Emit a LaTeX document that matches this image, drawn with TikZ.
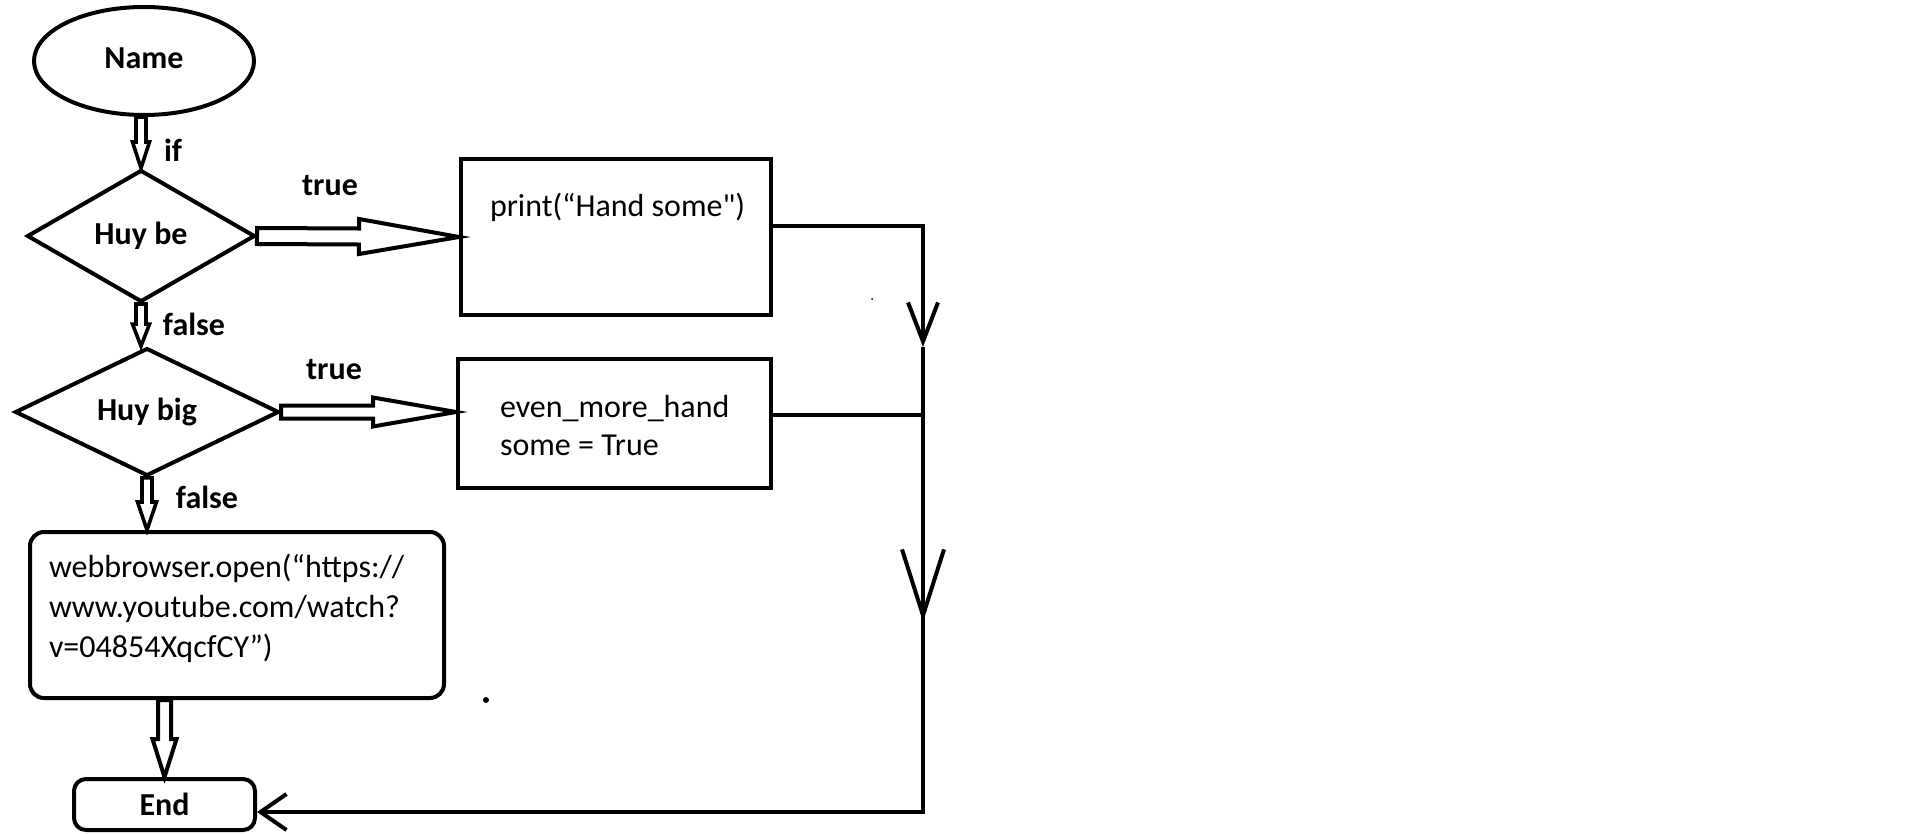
\documentclass[tikz,border=0pt]{standalone}
\usepackage{fontspec}
\setmainfont{Carlito}[Ligatures=TeXOff]
\usetikzlibrary{shapes.geometric, arrows.meta, positioning, calc}
\newcommand{\lblfont}{\fontsize{16}{20}\selectfont\bfseries}
\newcommand{\txtfont}{\fontsize{16}{20}\selectfont}

\begin{document}
\begin{tikzpicture}[x=0.5pt, y=-0.5pt, line width=2pt]
		% Define elements
		\tikzstyle{line} = [draw, -{Straight Barb[length=13pt, width=18pt]}]
		\tikzstyle{block} = [rectangle, draw, inner sep=0pt]
		\tikzstyle{decision} = [diamond, draw, inner sep=0pt, font=\lblfont]
		\tikzstyle{txt} = [inner sep=0pt, font=\txtfont, align=left]
		\tikzstyle{lbl} = [inner sep=0pt, font=\lblfont]
		\tikzset{fat/.style n args={3}{draw, to path={
			($(\tikztotarget)!#3!(\tikztostart)$) coordinate (fatc)
			($(\tikztostart)!#1!90:(\tikztotarget)$) -- ($(fatc)!#1!90:(\tikztotarget)$)
			-- ($(fatc)!#2!90:(\tikztotarget)$) -- (\tikztotarget)
			-- ($(fatc)!#2!-90:(\tikztotarget)$) -- ($(fatc)!#1!-90:(\tikztotarget)$)
			-- ($(\tikztostart)!#1!-90:(\tikztotarget)$) -- cycle}}}
		\useasboundingbox (0,0) rectangle (1914,834);

		%% Decisions
		\node [name = start, ellipse, draw, inner sep=0pt,
			minimum width=110pt, minimum height=54pt, font=\lblfont] at (144,61) {\raisebox{3pt}{Name}};
		\node [name = huybe, decision, minimum width=114pt, minimum height=66pt] at (141,236) {Huy be};
		\node [name = huybig, decision, minimum width=132pt, minimum height=63pt] at (147,412) {Huy big};

		%% Actions
		\node [name = hand, block, minimum width=155pt, minimum height=78pt] at (616,237) {};
		\node [name = handtext, txt, anchor=base west] at ($(hand.north west)+(29,59)$) {print(“Hand some")};
		\node [name = more, block, minimum width=156.5pt, minimum height=64.5pt] at (614.5,423.5) {};
		\node [name = moretext, txt, anchor=base west, font=\fontsize{16}{19}\selectfont]
			at ($(more.north west)+(42,98)$) {even\_more\_hand\\some = True};
		\node [name = web, block, rounded corners=7pt, minimum width=207pt, minimum height=83pt] at (237,615) {};
		\node [name = webtext, txt, anchor=base west] at ($(web.north west)+(19,127)$)
			{webbrowser.open(“https://\\www.youtube.com/watch?\\v=04854XqcfCY”)};
		\node [name = stop, block, rounded corners=6pt,
			minimum width=90.5pt, minimum height=25.5pt, font=\lblfont] at (164.5,804.5) {End};

		%% Labels
		\node [lbl] at (173,150) {if};
		\node [lbl] at (330,186) {true};
		\node [lbl] at (194,324) {false};
		\node [lbl] at (334,370) {true};
		\node [lbl] at (207,497) {false};
		\fill (486,700) circle (1.5pt);
		\fill (872,299) circle (0.5pt);

	% arrows
		\coordinate (f0) at (huybe.north |- start.south);
		\coordinate (f1) at (huybe.south |- huybig.north);
		\coordinate (f2) at (huybig.south |- web.north);
		\coordinate (f3) at (stop.north |- web.south);
		\coordinate (t2) at (huybig.east -| more.west);
		\draw [fat={2.5pt}{4.25pt}{13pt}, line width=1.8pt] (f0) to (huybe.north);
		\draw [fat={4pt}{8.75pt}{50pt}] (huybe.east) to (hand.west);
		\draw [fat={2.5pt}{4.25pt}{11pt}, line width=1.8pt] (huybe.south) to (f1);
		\draw [fat={3.25pt}{7.25pt}{41.5pt}] (huybig.east) to (t2);
		\draw [fat={2.5pt}{4.75pt}{14pt}, line width=1.8pt] (huybig.south) to (f2);
		\draw [fat={3.25pt}{6pt}{19pt}] (f3) to (stop.north);

		\coordinate (j1) at (923,226);
		\coordinate (a1) at (923,347);
		\coordinate (j2) at (923,415);
		\coordinate (a2) at (923,622);
		\coordinate (j3) at (923,812);
		\path [draw, -{Straight Barb[length=19.5pt, width=15pt]}] (hand.east |- j1) -- (j1) -- (a1);
		\path [draw] (more.east |- j2) -- (j2);
		\path [draw, -{Straight Barb[length=33pt, width=21pt]}] (j2) -- (a2);
		\path [line] (a1) -- (j3) -- (j3 -| stop.east);
\end{tikzpicture}
\end{document}
